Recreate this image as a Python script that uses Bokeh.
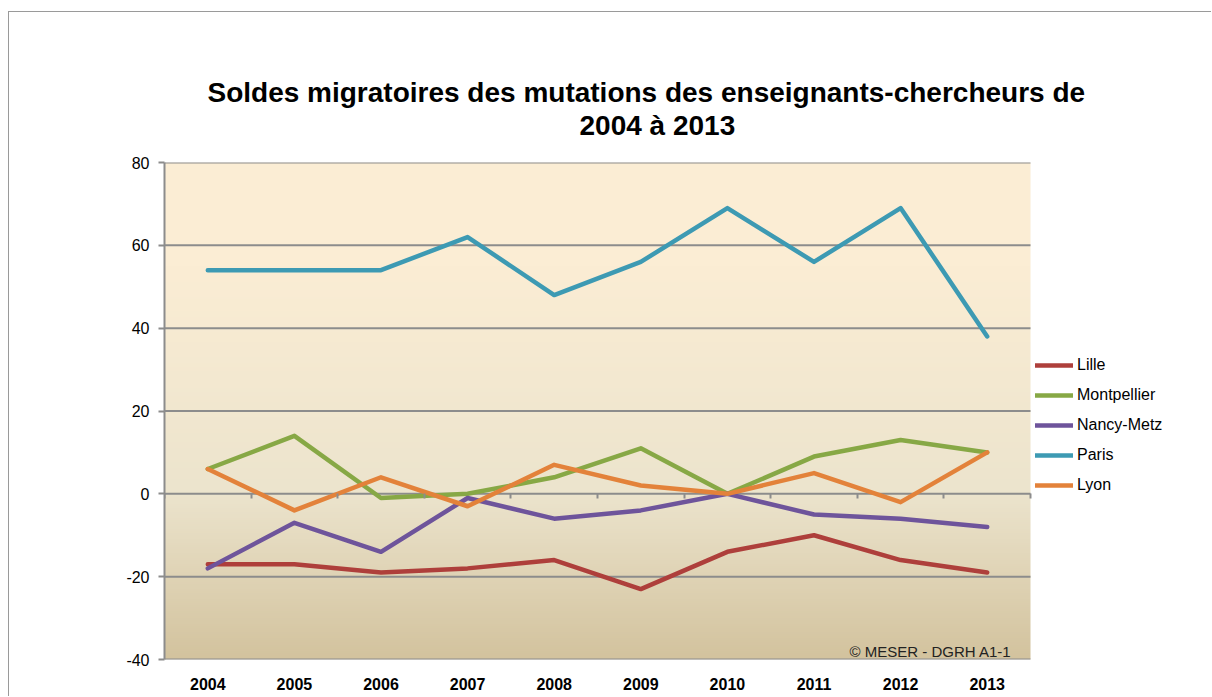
import numpy as np
from bokeh.plotting import figure
from bokeh.models import (Range1d, FixedTicker, LinearAxis, Legend, LegendItem, Label, Title)
from bokeh.embed import file_html
from bokeh.resources import INLINE

# ---- data ----
years = ["2004", "2005", "2006", "2007", "2008", "2009", "2010", "2011", "2012", "2013"]
lille = [-17, -17, -19, -18, -16, -23, -14, -10, -16, -19]
montpellier = [6, 14, -1, 0, 4, 11, 0, 9, 13, 10]
nancy_metz = [-18, -7, -14, -1, -6, -4, 0, -5, -6, -8]
paris = [54, 54, 54, 62, 48, 56, 69, 56, 69, 38]
lyon = [6, -4, 4, -3, 7, 2, 0, 5, -2, 10]
series_names = ["Lille", "Montpellier", "Nancy-Metz", "Paris", "Lyon"]
y_ticks = [-40, -20, 0, 20, 40, 60, 80]
title_line1 = "Soldes migratoires des mutations des enseignants-chercheurs de"
title_line2 = "2004 à 2013"
credit_text = "© MESER - DGRH A1-1"

colors = ["#AE3F3B", "#87A845", "#6E549B", "#3D9AB3", "#E3823A"]
FONT = "Liberation Sans"
GRID = "#8c8c8c"

# layout (pixels)
W, HGT = 1203, 685
LEFT, RIGHT, TOP, BOTTOM = 155, 10, 150, 38
PLOT_W = 866                      # width of the category area
FRAME_W = W - LEFT - RIGHT        # frame also hosts the legend on its right

x = np.arange(len(years))
ymin, ymax = y_ticks[0], y_ticks[-1]
n = len(years)
x_end = -0.5 + n * FRAME_W / PLOT_W

p = figure(width=W, height=HGT, output_backend="svg", toolbar_location=None,
           x_range=Range1d(-0.5, x_end), y_range=Range1d(ymin, ymax),
           min_border_left=LEFT, min_border_top=TOP, min_border_bottom=BOTTOM,
           min_border_right=RIGHT, title=title_line1)
p.styles = {"border-left": "1px solid #9a9a9a", "border-top": "1px solid #9a9a9a",
            "margin-left": "8px", "margin-top": "11px"}
p.background_fill_color = "white"
p.border_fill_color = "white"
p.outline_line_color = None

# title: two lines, left aligned with offsets so that both are centred
t = p.title
t.align = "left"
t.offset = 43
t.standoff = -44
t.text_font = FONT
t.text_font_size = "28px"
t.text_font_style = "bold"
t.text_color = "black"
t2 = Title(text=title_line2, align="left", offset=415, standoff=44, text_font=FONT,
           text_font_size="28px", text_font_style="bold", text_color="black")
p.add_layout(t2, "above")

# gradient background of the plot area (style only)
stops_y = [ymin, 0, 55, ymax]
stops_c = np.array([[211, 195, 158], [236, 228, 205], [251, 237, 212], [252, 238, 213]], dtype=float)
NG = 240
yy = np.linspace(ymin, ymax, NG)
rgb = np.stack([np.interp(yy, stops_y, stops_c[:, k]) for k in range(3)], axis=1).astype(np.uint32)
img = (255 << 24) | (rgb[:, 2] << 16) | (rgb[:, 1] << 8) | rgb[:, 0]
img = img.reshape(NG, 1).astype(np.uint32)
p.image_rgba(image=[img], x=-0.5, y=ymin, dw=n, dh=ymax - ymin, level="image")

# horizontal gridlines limited to the plot area
p.segment(x0=[-0.5] * len(y_ticks), x1=[n - 0.5] * len(y_ticks), y0=y_ticks, y1=y_ticks,
          line_color=GRID, line_width=2, level="underlay")
p.xgrid.grid_line_color = None
p.ygrid.grid_line_color = None

# y axis
p.yaxis.ticker = FixedTicker(ticks=y_ticks)
p.yaxis.major_label_overrides = {t_: str(t_) for t_ in y_ticks}
p.yaxis.axis_line_color = GRID
p.yaxis.axis_line_width = 2
p.yaxis.major_tick_line_color = GRID
p.yaxis.major_tick_line_width = 2
p.yaxis.major_tick_out = 6
p.yaxis.major_tick_in = 0
p.yaxis.minor_tick_line_color = None
p.yaxis.major_label_standoff = 9
p.yaxis.major_label_text_font = FONT
p.yaxis.major_label_text_font_size = "16px"
p.yaxis.major_label_text_color = "black"

# bottom category labels
p.xaxis.ticker = FixedTicker(ticks=list(x))
p.xaxis.major_label_overrides = {int(i): years[i] for i in x}
p.xaxis.axis_line_color = None
p.xaxis.major_tick_line_color = None
p.xaxis.minor_tick_line_color = None
p.xaxis.major_label_standoff = 12
p.xaxis.major_label_text_font = FONT
p.xaxis.major_label_text_font_size = "16px"
p.xaxis.major_label_text_font_style = "bold"
p.xaxis.major_label_text_color = "black"

# category boundary ticks on the 0 line
ax0 = LinearAxis(fixed_location=0,
                 ticker=FixedTicker(ticks=[i - 0.5 for i in range(n + 1)]))
ax0.axis_line_color = None
ax0.major_tick_line_color = GRID
ax0.major_tick_line_width = 2
ax0.major_tick_out = 5
ax0.major_tick_in = 0
ax0.minor_tick_line_color = None
ax0.major_label_text_font_size = "0px"
ax0.major_label_text_alpha = 0
p.add_layout(ax0, "below")

# lines
items = []
for name, vals, c in zip(series_names, [lille, montpellier, nancy_metz, paris, lyon], colors):
    r = p.line(x, vals, line_color=c, line_width=4.5, line_join="round", line_cap="round")
    items.append(LegendItem(label=name, renderers=[r]))

legend = Legend(items=items, location=(PLOT_W + 5, 164), orientation="vertical")
legend.glyph_width = 38
legend.glyph_height = 20
legend.label_height = 20
legend.spacing = 10
legend.padding = 0
legend.margin = 0
legend.label_standoff = 4
legend.border_line_color = None
legend.background_fill_alpha = 0
legend.label_text_font = FONT
legend.label_text_font_size = "16px"
legend.label_text_color = "black"
p.add_layout(legend)

credit = Label(x=n - 0.5, y=ymin, x_offset=-19, y_offset=8, text=credit_text,
               text_align="right", text_baseline="alphabetic", text_font=FONT,
               text_font_size="15px", text_color="#222222")
p.add_layout(credit)

open("out.html", "w").write(file_html(p, INLINE))
